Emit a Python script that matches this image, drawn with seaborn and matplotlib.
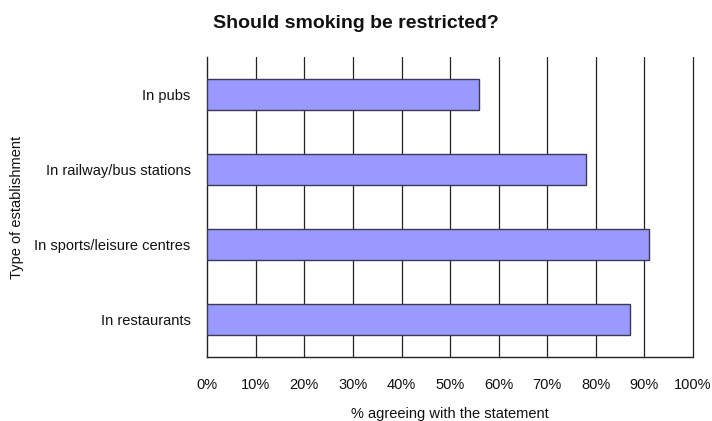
import matplotlib
matplotlib.use("Agg")
import matplotlib.pyplot as plt
import seaborn as sns
import pandas as pd
from matplotlib.ticker import FuncFormatter

categories = ["In pubs", "In railway/bus stations", "In sports/leisure centres", "In restaurants"]
values = [56, 78, 91, 87]
x_ticks = list(range(0, 101, 10))

sns.set_theme(style="white")
plt.rcParams['font.family'] = ['Liberation Sans', 'DejaVu Sans']

df = pd.DataFrame({"cat": categories, "val": values})

fig = plt.figure(figsize=(7.12, 4.21), dpi=100)
ax = fig.add_axes([0.291, 0.152, 0.6823, 0.7126])

sns.barplot(data=df, y="cat", x="val", orient="h", color="#9999FF",
            saturation=1, width=0.41, edgecolor="#3a3a55", linewidth=1.0, ax=ax, zorder=3)

ax.set_xlim(0, 100)
ax.set_xticks(x_ticks)
ax.xaxis.set_major_formatter(FuncFormatter(lambda v, p: f"{int(v)}%"))
for t in x_ticks[1:]:
    ax.axvline(t, color="#222222", lw=0.9, zorder=1, clip_on=False)

for s in ["top", "right"]:
    ax.spines[s].set_visible(False)
ax.spines["left"].set_color("#222222")
ax.spines["bottom"].set_color("#222222")
ax.spines["left"].set_linewidth(1.0)
ax.spines["bottom"].set_linewidth(1.0)
ax.tick_params(axis="both", length=0, labelsize=10.5, colors="#111111")
ax.tick_params(axis="x", pad=15)
ax.tick_params(axis="y", pad=12)

ax.set_xlabel("% agreeing with the statement", fontsize=10.5, color="#111111", labelpad=11)
ax.set_ylabel("")
fig.text(17 / 712, 1 - 207 / 421, "Type of establishment", rotation=90, ha="center", va="center",
         fontsize=10.5, color="#111111")
fig.text(0.5, 0.945, "Should smoking be restricted?", ha="center", va="center",
         fontsize=14, fontweight="bold", color="#111111")

fig.savefig("out.png", dpi=100)
